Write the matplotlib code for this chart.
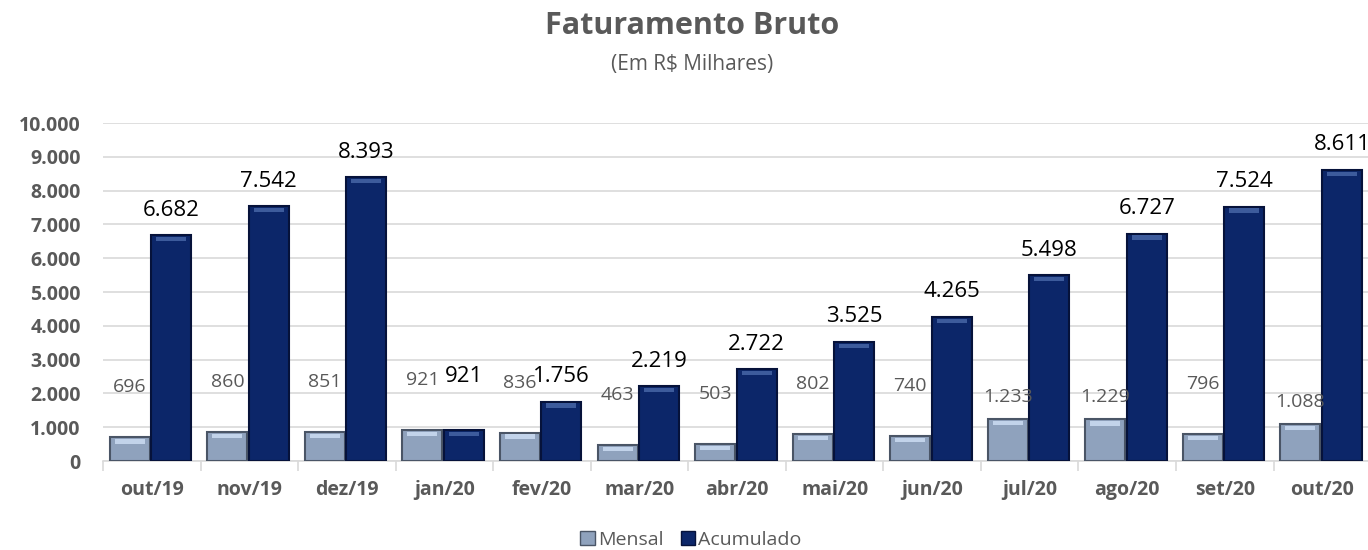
import numpy as np
import matplotlib.pyplot as plt
from matplotlib.patches import Patch

meses = ["out/19", "nov/19", "dez/19", "jan/20", "fev/20", "mar/20", "abr/20",
         "mai/20", "jun/20", "jul/20", "ago/20", "set/20", "out/20"]
mensal = [696, 860, 851, 921, 836, 463, 503, 802, 740, 1233, 1229, 796, 1088]
acumulado = [6682, 7542, 8393, 921, 1756, 2219, 2722, 3525, 4265, 5498, 6727, 7524, 8611]

def fmt(v):
    return f"{v:,}".replace(",", ".")

plt.rcParams['font.family'] = ['Open Sans', 'DejaVu Sans']
cinza = "#595959"
c_mensal = "#8fa2bd"
c_acum = "#0c2669"

fig = plt.figure(figsize=(13.68, 5.5), dpi=100)
ax = fig.add_axes([0.0753, 0.1618, 0.927, 0.6145])

x = np.arange(len(meses))
w = 0.41
xm = x - 0.225
xa = x + 0.2

# bars with a light bevel at the top
ax.bar(xm, mensal, w, color=c_mensal, edgecolor="#4a5566", linewidth=1.5, zorder=3)
ax.bar(xa, acumulado, w, color=c_acum, edgecolor="#06123a", linewidth=1.5, zorder=3)
bev = 130
ax.bar(xm, [bev] * len(mensal), w * 0.75, bottom=np.array(mensal) - bev - 50,
       color="#c2d3ea", linewidth=0, zorder=4)
ax.bar(xa, [bev] * len(acumulado), w * 0.75, bottom=np.array(acumulado) - bev - 50,
       color="#3d5b9c", linewidth=0, zorder=4)

for xi, v in zip(xm, mensal):
    off = 22 if v >= 1000 else 50
    ax.annotate(fmt(v), (xi, v), xytext=(0, off), textcoords="offset pixels",
                ha="center", va="center", fontsize=14, color=cinza)
for xi, v in zip(xa, acumulado):
    off = 25 if v >= 1000 else 53
    ax.annotate(fmt(v), (xi, v), xytext=(0, off), textcoords="offset pixels",
                ha="center", va="center", fontsize=16, color="black",
                annotation_clip=False)

ax.set_xlim(-0.5, len(meses) - 0.5)
ax.set_ylim(0, 10000)
ax.set_yticks(np.arange(0, 10001, 1000))
ax.set_yticklabels([fmt(v) for v in range(0, 10001, 1000)], fontsize=14,
                   fontweight="bold", color=cinza)
ax.yaxis.grid(True, color="#d9d9d9", linewidth=1.2, zorder=0)
ax.tick_params(axis="y", length=0, pad=16)

ax.set_xticks(x)
ax.set_xticklabels(meses, fontsize=14, fontweight="bold", color=cinza)
ax.set_xticks(np.arange(-0.5, len(meses), 1), minor=True)
ax.tick_params(axis="x", which="major", length=0, pad=14)
ax.tick_params(axis="x", which="minor", length=7, color="#d9d9d9", width=1.2)

for s in ["top", "right", "left"]:
    ax.spines[s].set_visible(False)
ax.spines["bottom"].set_color("#d9d9d9")
ax.spines["bottom"].set_linewidth(1.2)
ax.set_axisbelow(True)

fig.text(0.506, 0.952, "Faturamento Bruto", ha="center", va="center",
         fontsize=22, fontweight="bold", color=cinza)
fig.text(0.506, 0.882, "(Em R$ Milhares)", ha="center", va="center",
         fontsize=15, color=cinza)

handles = [Patch(facecolor=c_mensal, edgecolor="#4a5566"),
           Patch(facecolor=c_acum, edgecolor="#06123a")]
fig.legend(handles, ["Mensal", "Acumulado"], loc="center", bbox_to_anchor=(0.505, 0.018),
           ncol=2, frameon=False, fontsize=14, labelcolor=cinza,
           handlelength=0.75, handleheight=0.75, handletextpad=0.15, columnspacing=0.9)

fig.savefig("out.png", dpi=100)
